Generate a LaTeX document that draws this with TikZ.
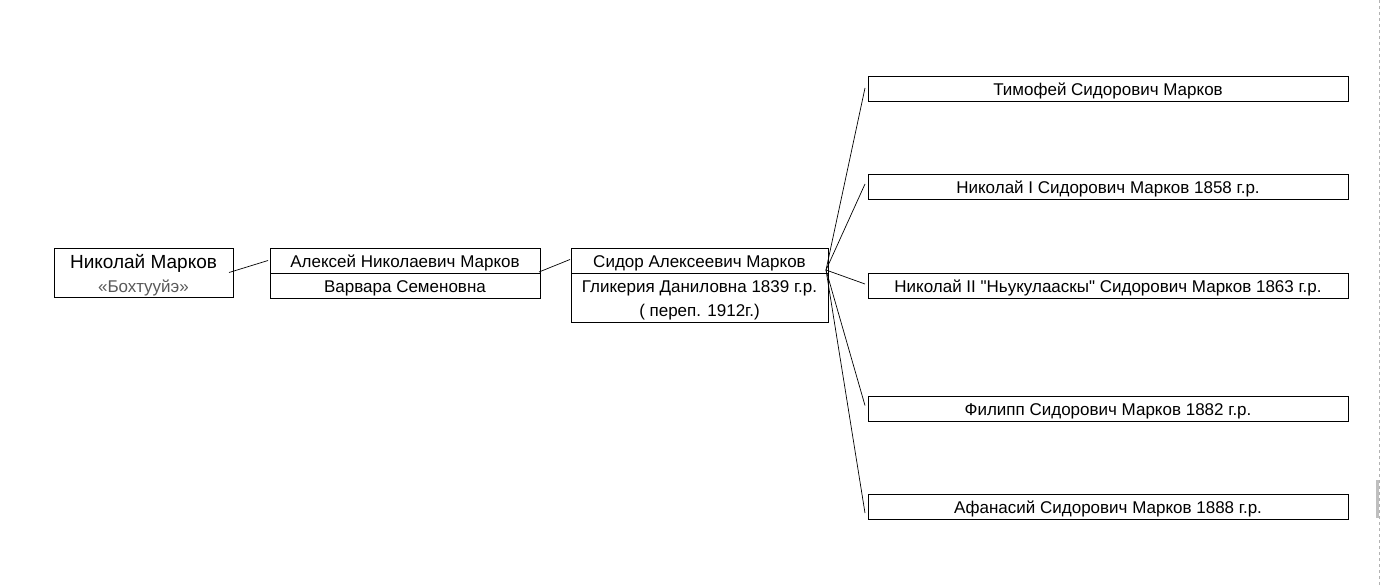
\documentclass[tikz,border=0pt]{standalone}
\usepackage{fontspec}
\setmainfont{Liberation Sans}
\usetikzlibrary{positioning}
\begin{document}
\begin{tikzpicture}[x=1pt,y=-1pt,font=\fontsize{17}{19}\selectfont]
				\tikzset{
					person/.style={draw,line width=0.8pt,inner sep=0pt,outer sep=0pt,minimum height=25pt,align=center,
						text height=17pt,text depth=3pt},
					link/.style={line width=0.7pt}
				}
				\useasboundingbox (0,0) rectangle (1381,588);
				% generations 1 to 3
				\node[person,minimum width=179pt,minimum height=49pt,text height=43.5pt,font=\fontsize{17}{24.5}\selectfont] (nikolay) at (143.5,272.5)
					{{\fontsize{19}{25}\selectfont Николай Марков}\\{\color{black!65}«Бохтууйэ»}};
				\node[person,minimum width=270pt,anchor=north west] (aleksey) at (270,248) {Алексей Николаевич Марков};
				\node[person,minimum width=270pt,below=0pt of aleksey] (varvara) {Варвара Семеновна};
				\node[person,minimum width=257pt,anchor=north west] (sidor) at (571,248) {Сидор Алексеевич Марков};
				\node[person,minimum width=257pt,minimum height=49pt,text height=40pt,below=0pt of sidor,font=\fontsize{17}{24}\selectfont] (glikeria)
					{Гликерия Даниловна 1839 г.р.\\( переп. 1912г.)};
				\draw[link] ([xshift=-4pt]nikolay.east) -- ([xshift=-2pt]aleksey.west);
				\draw[link] ([xshift=-1pt,yshift=1pt]aleksey.south east) -- ([xshift=-1pt,yshift=1pt]sidor.west);
				% children of Sidor
				\def\cx{868} \def\cw{480pt}
				\foreach \c/\y/\t in {tim/76/{Тимофей Сидорович Марков},
					nika/174/{Николай I Сидорович Марков 1858 г.р.},
					nikb/273/{Николай II \textquotedbl Ньукулааскы\textquotedbl{} Сидорович Марков 1863 г.р.},
					fil/396/{Филипп Сидорович Марков 1882 г.р.},
					afa/494/{Афанасий Сидорович Марков 1888 г.р.}}
				\node[person,minimum width=\cw,anchor=north west] (\c) at (\cx,\y) {\t};
				\coordinate (fork) at ([xshift=-2pt,yshift=3pt]sidor.south east);
				\foreach \c/\dy in {tim/0.5,nika/2.5,nikb/1.5,fil/3,afa/-6.5}
				\draw[link] (fork) -- ([xshift=-3pt,yshift=\dy pt]\c.west);
				% page edge
				\draw[black!30,dashed,line width=0.6pt] (1379.5,0) -- (1379.5,588);
				\fill[black!25] (1375.5,480) rectangle (1378.5,518);
\end{tikzpicture}
\end{document}
